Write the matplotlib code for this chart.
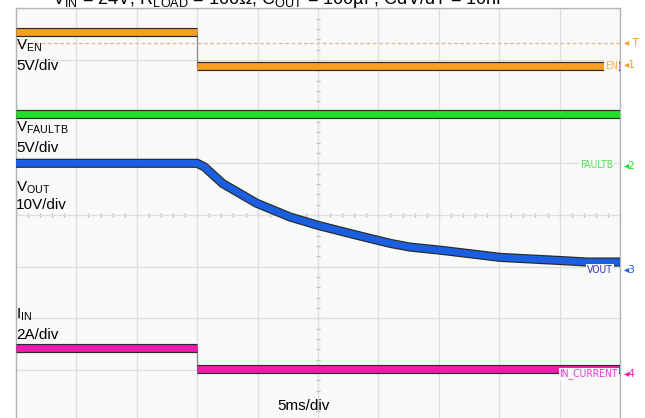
import numpy as np
from matplotlib import pyplot as plt

plt.rcParams['font.family'] = ['Liberation Sans', 'DejaVu Sans']
plt.rcParams['mathtext.fontset'] = 'custom'
plt.rcParams['mathtext.rm'] = 'Liberation Sans'
plt.rcParams['mathtext.it'] = 'Liberation Sans:italic'

# time in ms (5 ms/div, 10 divisions)
EN_T = [0, 15.0, 15.0, 50]
EN_V = [3.3, 3.3, 0, 0]
TRIG_V = 2.2

FAULTB_T = [0, 50]
FAULTB_V = [4.9, 4.9]

VOUT_T = [0, 15.0, 15.6, 17.1, 19.9, 22.7, 25.0, 28.2, 31.0, 32.6, 35.1, 40.1, 45.0, 47.3, 50.0]
VOUT_V = [20.3, 20.3, 19.6, 16.4, 12.6, 9.9, 8.3, 6.4, 4.8, 4.1, 3.5, 2.1, 1.5, 1.2, 1.2]

IN_T = [0, 15.0, 15.0, 50]
IN_A = [0.93, 0.93, 0.12, 0.12]

# channel ground position (div from centre) and scale (units/div)
EN_ZERO, EN_SCALE = 2.88, 5
FAULTB_ZERO, FAULTB_SCALE = 0.97, 5
VOUT_ZERO, VOUT_SCALE = -1.03, 10
IN_ZERO, IN_SCALE = -3.04, 2

ORANGE = '#f5a023'
GREEN = '#22e02a'
BLUE = '#1a5fe0'
MAGENTA = '#f01cb0'

W, H = 645, 418


def px(x, y):
    return x / W, 1 - y / H


def trace(ax, t, v, zero, scale, color):
    y = zero + np.asarray(v, dtype=float) / scale
    ax.plot(t, y, color='#2a2a2a', lw=6.6, solid_capstyle='butt',
            solid_joinstyle='round', zorder=3)
    ax.plot(t, y, color=color, lw=4.9, solid_capstyle='butt',
            solid_joinstyle='round', zorder=4)


def step_trace(ax, t, v, zero, scale, color):
    y = zero + np.asarray(v, dtype=float) / scale
    ax.plot(t, y, color='#8a8a8a', lw=0.9, zorder=2)
    trace(ax, t[:2], v[:2], zero, scale, color)
    trace(ax, t[2:], v[2:], zero, scale, color)


fig = plt.figure(figsize=(W / 100, H / 100), dpi=100)
ax = fig.add_axes([16 / W, (H - 421.8) / H, 604 / W, 413.6 / H])
ax.set_facecolor('#f8faf8')
ax.set_xlim(0, 50)
ax.set_ylim(-4, 4)
ax.set_xticks(np.arange(0, 51, 5))
ax.set_yticks(np.arange(-4, 5, 1))
ax.tick_params(length=0, labelbottom=False, labelleft=False)
ax.grid(True, color='#dcdedc', lw=0.9)
for s in ax.spines.values():
    s.set_color('#b4b4b4')
    s.set_linewidth(1.0)

# centre crosshair ticks
cx = np.arange(0, 50.01, 1)
cy = np.arange(-4, 4.01, 0.2)
ax.plot(cx, np.zeros_like(cx), ls='none', marker='|', ms=3, color='#b8b8b8', zorder=1)
ax.plot(np.full_like(cy, 25), cy, ls='none', marker='_', ms=3, color='#b8b8b8', zorder=1)

# trigger level
ax.axhline(EN_ZERO + TRIG_V / EN_SCALE, color='#f0b090', lw=0.9, ls=(0, (3, 2)), zorder=2)

step_trace(ax, EN_T, EN_V, EN_ZERO, EN_SCALE, ORANGE)
trace(ax, FAULTB_T, FAULTB_V, FAULTB_ZERO, FAULTB_SCALE, GREEN)
trace(ax, VOUT_T, VOUT_V, VOUT_ZERO, VOUT_SCALE, BLUE)
step_trace(ax, IN_T, IN_A, IN_ZERO, IN_SCALE, MAGENTA)

# title, mostly cut off at the top as in the original capture
fig.text(*px(52, 4), r'V$_{\mathrm{IN}}$ = 24V, R$_{\mathrm{LOAD}}$ = 100Ω, '
         r'C$_{\mathrm{OUT}}$ = 100µF, CdV/dT = 10nF',
         fontsize=13, va='baseline', ha='left')

# channel captions on the left
labels = [
    (50, r'V$_{\mathrm{EN}}$'), (70, '5V/div'),
    (132, r'V$_{\mathrm{FAULTB}}$'), (152, '5V/div'),
    (192, r'V$_{\mathrm{OUT}}$'), (209, '10V/div'),
    (319, r'I$_{\mathrm{IN}}$'), (339, '2A/div'),
]
for y, s in labels:
    fig.text(*px(16, y), s, fontsize=11, va='baseline', ha='left', zorder=10)
fig.text(*px(277, 410), '5ms/div', fontsize=11, va='baseline', ha='left')

# channel names and ground markers on the right
box = dict(facecolor='#f8faf8', edgecolor='none', pad=0.6)
names = [
    (618, 66, 'EN', '#f4b050'),
    (613, 165, 'FAULTB', '#55e055'),
    (613, 270, 'VOUT', '#3434b4'),
    (618, 374, 'IN_CURRENT', '#e040d0'),
]
for x, y, s, c in names:
    fig.text(*px(x, y), s, fontsize=7.5, color=c, ha='right', va='center',
             bbox=box, zorder=10, fontfamily='DejaVu Sans', fontstretch='condensed')
markers = [
    (43, '◂ T', ORANGE),
    (65, '◂1', ORANGE),
    (166, '◂2', GREEN),
    (270, '◂3', BLUE),
    (374, '◂4', MAGENTA),
]
for y, s, c in markers:
    fig.text(*px(624, y), s, fontsize=7.5, color=c, ha='left', va='center',
             fontfamily='DejaVu Sans')

fig.savefig('out.png', dpi=100)
